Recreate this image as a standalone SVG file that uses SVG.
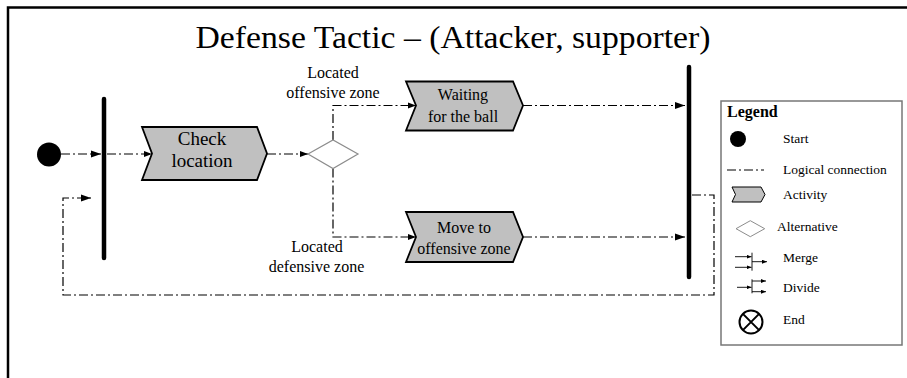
<svg xmlns="http://www.w3.org/2000/svg" width="907" height="378" viewBox="0 0 907 378">
  <defs>
    <style>
      text{font-family:"Liberation Serif","Times New Roman",serif;fill:#000}
      .flow{fill:none;stroke:#000;stroke-width:1.2;stroke-dasharray:9 3 2 3}
      .act{fill:#c0c0c0;stroke:#000;stroke-width:1.8;stroke-linejoin:miter}
      .bar{stroke:#000;stroke-width:4.5;stroke-linecap:round}
      .alt{fill:#fff;stroke:#8c8c8c;stroke-width:1.2}
      .lbl{font-size:16px;text-anchor:middle}
      .leg{font-size:13.5px}
      .thin{fill:none;stroke:#000;stroke-width:0.9}
    </style>
    <marker id="arr" markerUnits="userSpaceOnUse" markerWidth="10" markerHeight="8" refX="10" refY="4" orient="auto">
      <path d="M0,0.5 L10,4 L0,7.5 z" fill="#000"/>
    </marker>
    <marker id="arrS" markerUnits="userSpaceOnUse" markerWidth="8" markerHeight="7" refX="8" refY="3.5" orient="auto">
      <path d="M0,0.5 L8,3.5 L0,6.5 z" fill="#000"/>
    </marker>
    <marker id="arrT" markerUnits="userSpaceOnUse" markerWidth="5" markerHeight="4" refX="5" refY="2" orient="auto">
      <path d="M0,0 L5,2 L0,4 z" fill="#000"/>
    </marker>
  </defs>

  <!-- outer frame -->
  <path d="M8,378 V7.5 H907" fill="none" stroke="#000" stroke-width="2.5"/>

  <!-- title -->
  <text x="453" y="48" font-size="32" text-anchor="middle" textLength="515" lengthAdjust="spacingAndGlyphs">Defense Tactic – (Attacker, supporter)</text>

  <!-- connectors -->
  <g id="connectors">
    <path class="flow" d="M61,154 H101" marker-end="url(#arr)"/>
    <path class="flow" d="M107,154 H152" marker-end="url(#arrS)"/>
    <path class="flow" d="M267,154 H308" marker-end="url(#arrS)"/>
    <path class="flow" d="M333,140 V105.5 H416" marker-end="url(#arrS)"/>
    <path class="flow" d="M333,168.5 V237 H416" marker-end="url(#arrS)"/>
    <path class="flow" d="M523,105.5 H685" marker-end="url(#arr)"/>
    <path class="flow" d="M523,237 H685" marker-end="url(#arr)"/>
    <path class="flow" d="M692,195 H714 V295 H63 V198 H91" marker-end="url(#arr)"/>
  </g>

  <!-- start -->
  <g id="start">
    <circle cx="49" cy="154.5" r="12" fill="#000"/>
  </g>

  <!-- fork bar -->
  <g id="fork">
    <line class="bar" x1="104" y1="99" x2="104" y2="258"/>
  </g>

  <!-- activity: check location -->
  <g id="check-location">
    <polygon class="act" points="142,127 257,127 267,153.5 257,180 142,180 152,153.5"/>
    <text x="202" y="145" font-size="19" text-anchor="middle">Check</text>
    <text x="202" y="167" font-size="19" text-anchor="middle">location</text>
  </g>

  <!-- alternative -->
  <g id="alternative">
    <polygon class="alt" points="308,154 333,140 358,154 333,168.5"/>
    <text class="lbl" x="333" y="78">Located</text>
    <text class="lbl" x="333" y="98">offensive zone</text>
    <text class="lbl" x="317" y="252">Located</text>
    <text class="lbl" x="316.5" y="272">defensive zone</text>
  </g>

  <!-- activity: waiting for the ball -->
  <g id="waiting">
    <polygon class="act" points="406,81.5 513,81.5 523,105.5 513,130.5 406,130.5 416,105.5"/>
    <text class="lbl" x="463" y="100">Waiting</text>
    <text class="lbl" x="463" y="121.5">for the ball</text>
  </g>

  <!-- activity: move to offensive zone -->
  <g id="move">
    <polygon class="act" points="406,212 513,212 523,237 513,262 406,262 416,237"/>
    <text class="lbl" x="464" y="232.5">Move to</text>
    <text class="lbl" x="464" y="253.5">offensive zone</text>
  </g>

  <!-- merge bar -->
  <g id="merge">
    <line class="bar" x1="689" y1="67" x2="689" y2="277"/>
  </g>

  <!-- legend -->
  <g id="legend">
    <rect x="721" y="101" width="181" height="244" fill="#fff" stroke="#777" stroke-width="1.5"/>
    <text x="727" y="117" font-size="16" font-weight="bold">Legend</text>

    <circle cx="738" cy="139" r="8" fill="#000"/>
    <text class="leg" x="783" y="143">Start</text>

    <path class="flow" d="M727,170 H764" stroke-width="1"/>
    <text class="leg" x="783" y="174">Logical connection</text>

    <polygon points="732,187 761,187 765,194.5 761,202 732,202 735.5,194.5" fill="#c0c0c0" stroke="#000" stroke-width="1"/>
    <text class="leg" x="783" y="199">Activity</text>

    <polygon points="736,228.7 750.3,220.7 764.7,228.7 750.3,236.7" fill="#fff" stroke="#8c8c8c" stroke-width="1"/>
    <text class="leg" x="777" y="231">Alternative</text>

    <path class="thin" d="M735,256.7 H751.5" marker-end="url(#arrT)"/>
    <path class="thin" d="M735,267.3 H751.5" marker-end="url(#arrT)"/>
    <path class="thin" d="M752,252.7 V270.7"/>
    <path class="thin" d="M752,261.7 H767" marker-end="url(#arrT)"/>
    <text class="leg" x="783" y="262">Merge</text>

    <path class="thin" d="M737,287.3 H751.5" marker-end="url(#arrT)"/>
    <path class="thin" d="M752,279.3 V293.3"/>
    <path class="thin" d="M752,281 H766" marker-end="url(#arrT)"/>
    <path class="thin" d="M752,291.7 H766" marker-end="url(#arrT)"/>
    <text class="leg" x="783" y="292">Divide</text>

    <circle cx="751" cy="322" r="11.5" fill="none" stroke="#000" stroke-width="2"/>
    <path d="M742.9,313.9 L759.1,330.1 M759.1,313.9 L742.9,330.1" stroke="#000" stroke-width="2"/>
    <text class="leg" x="783" y="324">End</text>
  </g>
</svg>
